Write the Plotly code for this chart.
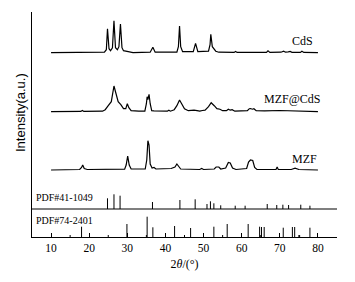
import plotly.graph_objects as go

# ---- data (2theta in degrees, intensity in arbitrary units) ----
cds_x = [10, 24.0, 24.5, 24.8, 25.2, 25.6, 26.1, 26.5, 26.9, 27.4, 27.8, 28.2, 28.6, 29.0, 29.6, 30.5, 31.5,
         36.0, 36.7, 37.3, 43.0, 43.4, 43.7, 44.0, 44.5, 47.3, 47.9, 48.5, 51.3, 51.7, 51.9, 52.3, 52.8,
         53.2, 54.0, 58.0, 58.4, 58.8, 66.5, 66.9, 67.4, 69.0, 69.6, 70.3, 71.0, 71.5, 72.2, 72.7, 73.2,
         75.4, 75.8, 76.3, 80]
cds_y = [0, 0.5, 3, 24, 4, 2, 5, 32, 5, 3, 6, 28.7, 5, 2, 1.5, 0.5, 0,
         0.5, 5.4, 0.5, 0.5, 6, 26.7, 6, 1, 1, 9.4, 1, 1.5, 8, 18.4, 6, 3.5,
         1.5, 0.5, 0.3, 1.2, 0.3, 0.3, 1.8, 0.3, 0.5, 1, 0.5, 1.5, 0.5, 0.8, 1.2, 0.3,
         0.3, 1.5, 0.3, 0]

mc_x = [10, 17.8, 18.2, 18.6, 23.5, 24.2, 25.0, 25.8, 26.5, 27.0, 27.6, 28.3, 29.0, 29.6, 30.0, 30.4, 31.0,
        33.0, 34.6, 35.0, 35.2, 35.4, 35.7, 36.0, 36.4, 37.0, 40.5, 40.9, 41.3, 42.3, 43.0, 43.7, 44.3,
        45.0, 46.0, 47.5, 48.3, 49.0, 49.7, 50.4, 51.3, 52.0, 52.8, 53.5, 54.3, 55.0, 56.0, 56.5, 57.0,
        57.5, 58.2, 61.5, 62.0, 62.3, 62.8, 63.2, 63.8, 66.0, 70.0, 72.0, 76.0, 80]
mc_y = [0, 0.3, 1.3, 0.3, 0.5, 2, 6, 10, 25.7, 18, 10, 7, 3, 3, 8, 4, 1,
        0.5, 0.5, 8, 15, 12, 17.4, 8, 1, 0.8, 0.5, 1.5, 0.5, 2, 6, 11.7, 8,
        3, 1, 1.5, 1, 0.5, 1.2, 1.5, 5, 9, 6, 3, 2.5, 1, 1, 2.5, 1.5,
        2, 0.5, 1, 3, 3.2, 2.5, 3, 1, 0.8, 1.2, 1.0, 0.3, 0]

mzf_x = [10, 17.5, 18.0, 18.3, 18.7, 19.5, 29.3, 29.7, 30.1, 30.5, 31.0, 34.7, 35.1, 35.4, 35.7, 36.0, 36.5,
         37.0, 37.5, 41.0, 41.5, 42.5, 43.0, 43.5, 44.0, 49.0, 49.5, 50.0, 52.8, 53.3, 54.0, 54.5, 55.8,
         56.5, 57.0, 57.6, 58.5, 61.3, 61.8, 62.3, 62.9, 63.4, 64.0, 69.0, 69.3, 69.6, 73.0, 74.0, 75.0, 80]
mzf_y = [0, 0.5, 2.5, 5, 1.5, 0.5, 0.8, 5, 14, 5, 1, 1, 10, 29.3, 25, 6, 2,
         2.5, 1, 1, 1.5, 3, 6, 3.5, 1, 0.5, 1.5, 0.5, 1, 3, 3, 1, 2,
         7.5, 7, 2, 0.5, 1.5, 8, 10, 9.5, 2.5, 0.5, 0.5, 3, 0.5, 0.5, 1.8, 0.5, 0]

pdf41_pos = [24.8, 26.5, 28.1, 36.6, 43.8, 47.8, 50.9, 51.8, 52.7, 54.5, 58.3, 60.9, 66.7, 69.2, 70.8, 72.3, 75.5, 77.9]
pdf41_int = [10.7, 14.7, 13.3, 7, 9, 9.7, 5, 7.7, 5.7, 3.7, 3.3, 3.3, 5, 4, 4.3, 4, 4.3, 3.3]

pdf74_pos = [18.0, 29.9, 35.2, 36.7, 42.4, 46.6, 52.7, 56.2, 61.7, 64.7, 65.2, 65.9, 70.9, 73.3, 73.9, 75.2, 77.9]
pdf74_int = [10.3, 13, 20.3, 9.7, 11, 9, 10.3, 13, 13, 10.3, 10, 10, 9.3, 10, 10, 2, 9.3]

series_names = ["CdS", "MZF@CdS", "MZF"]
ref_names = ["PDF#41-1049", "PDF#74-2401"]
tick_vals = [10, 20, 30, 40, 50, 60, 70, 80]
tick_text = ["10", "20", "30", "40", "50", "60", "70", "80"]

# ---- layout constants ----
offsets = [184.3, 125.3, 67]
ref_base = [28, 0]
SERIF = "Liberation Serif, Times New Roman, serif"

fig = go.Figure()
for xs, ys, off in zip([cds_x, mc_x, mzf_x], [cds_y, mc_y, mzf_y], offsets):
    fig.add_trace(go.Scatter(x=xs, y=[v + off for v in ys], mode="lines",
                             line=dict(color="black", width=1.2), showlegend=False, hoverinfo="skip"))

for pos, inten, base in zip([pdf41_pos, pdf74_pos], [pdf41_int, pdf74_int], ref_base):
    sx, sy = [], []
    for p, h in zip(pos, inten):
        sx += [p, p, None]
        sy += [base, base + h, None]
    fig.add_trace(go.Scatter(x=sx, y=sy, mode="lines", line=dict(color="black", width=1),
                             showlegend=False, hoverinfo="skip"))

# minor ticks every 5 degrees
mx, my = [], []
for t in range(10, 85, 5):
    if t % 10 == 5:
        mx += [t, t, None]
        my += [0, 2, None]
fig.add_trace(go.Scatter(x=mx, y=my, mode="lines", line=dict(color="black", width=1),
                         showlegend=False, hoverinfo="skip"))

# separator line
fig.add_shape(type="line", x0=5, x1=85, y0=28, y1=28, xref="x", yref="y",
              line=dict(color="black", width=1.2))

label_pos = [(79.2, 196.3), (81.1, 138), (80.3, 78)]
for name, (lx, ly) in zip(series_names, label_pos):
    fig.add_annotation(x=lx, y=ly, text=name, showarrow=False, xanchor="right", yanchor="middle",
                       font=dict(family=SERIF, size=12, color="black"))
for name, ly in zip(ref_names, [40, 17]):
    fig.add_annotation(x=5.5, y=ly, text=name, showarrow=False, xanchor="left", yanchor="middle",
                       font=dict(family=SERIF, size=10, color="black"))

fig.add_annotation(x=(20 - 32) / 305, y=(237 - 113) / 225, xref="paper", yref="paper",
                   text="Intensity(a.u.)", showarrow=False, textangle=-90,
                   font=dict(family="Liberation Sans, Arial, sans-serif", size=13, color="black"),
                   xanchor="center", yanchor="middle")

# page body has an 8px default margin, so the figure is shrunk by 8px
fig.update_layout(
    width=347, height=274, margin=dict(l=24, r=18, t=4, b=45),
    paper_bgcolor="white", plot_bgcolor="white",
    xaxis=dict(range=[5, 85], showgrid=False, zeroline=False, showline=True, linecolor="black", linewidth=1.2,
               ticks="inside", ticklen=4, tickcolor="black", tickwidth=1,
               tickvals=tick_vals, ticktext=tick_text, automargin=False,
               tickfont=dict(family=SERIF, size=11.5, color="black"),
               title=dict(text="2<i>θ</i>/(°)", font=dict(family=SERIF, size=12, color="black"), standoff=6)),
    yaxis=dict(range=[0, 225], showgrid=False, zeroline=False, showline=True, linecolor="black", linewidth=1.2,
               showticklabels=False, ticks="", automargin=False),
)
fig.write_html("out.html")
